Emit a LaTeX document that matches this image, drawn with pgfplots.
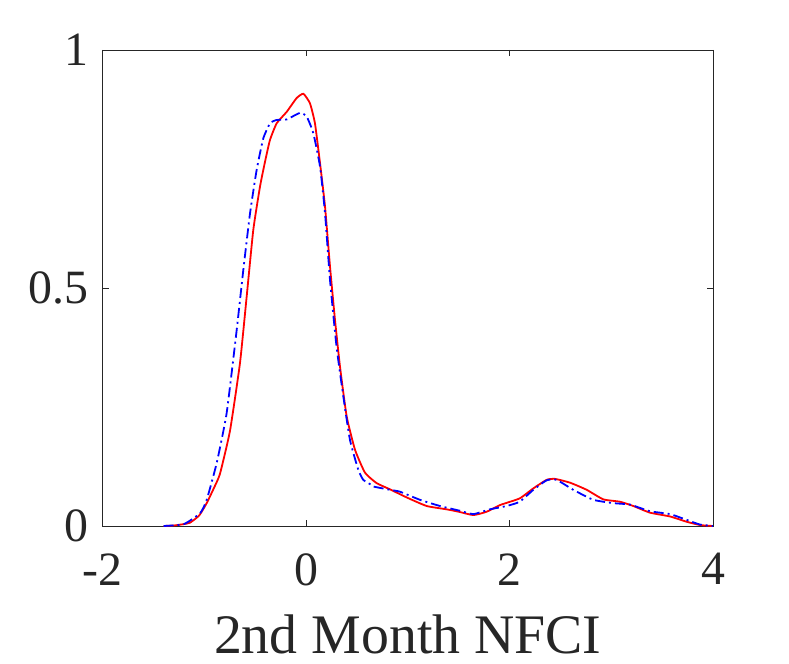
\documentclass[border=0pt]{standalone}
\usepackage{pgfplots}
\pgfplotsset{compat=1.18}
\usepackage{fontspec}
\setmainfont{Liberation Serif}
\definecolor{axgray}{RGB}{38,38,38}
\begin{document}
\begin{tikzpicture}
\begin{axis}[
  name=ax,
  scale only axis,
  width=610.5bp, height=476bp,
  xmin=-2, xmax=4, ymin=0, ymax=1,
  xtick={-2,0,2,4}, xticklabels={-2,0,2,4},
  ytick={0,0.5,1}, yticklabels={0,0.5,1},
  tick align=inside,
  major tick length=6bp,
  axis line style={axgray, line width=0.8bp},
  every tick/.style={axgray, line width=0.8bp},
  tick label style={font=\fontsize{48}{48}\selectfont, text=axgray},
  xticklabel style={yshift=-24bp},
  yticklabel style={xshift=-11bp},
  xlabel={2nd Month NFCI},
  xlabel style={font=\fontsize{56}{56}\selectfont, text=axgray, yshift=-22bp},
  /pgf/number format/assume math mode=true,
]
\addplot[red, line width=1.8bp, smooth, tension=0.3] coordinates {
(-1.40,0) (-1.30,0.001) (-1.20,0.004) (-1.14,0.007) (-1.05,0.022) (-0.976,0.048)
(-0.90,0.082) (-0.845,0.11) (-0.747,0.20) (-0.649,0.342) (-0.583,0.482) (-0.518,0.622)
(-0.452,0.713) (-0.403,0.765) (-0.354,0.811) (-0.288,0.846) (-0.19,0.870) (-0.092,0.899)
(-0.026,0.908) (0.039,0.888) (0.088,0.846) (0.138,0.762) (0.187,0.671) (0.236,0.545)
(0.285,0.433) (0.334,0.335) (0.40,0.23) (0.482,0.16) (0.58,0.112) (0.695,0.09)
(0.826,0.077) (0.99,0.060) (1.186,0.042) (1.383,0.035) (1.50,0.030) (1.645,0.023)
(1.776,0.030) (1.907,0.044) (2.10,0.058) (2.234,0.079) (2.365,0.097) (2.447,0.099)
(2.595,0.091) (2.759,0.076) (2.922,0.056) (3.086,0.051) (3.217,0.042) (3.381,0.028)
(3.578,0.020) (3.74,0.009) (3.872,0.002) (4.0,0)
};
\addplot[blue, line width=1.8bp, smooth, tension=0.3, dash pattern=on 10bp off 4bp on 2bp off 4bp] coordinates {
(-1.40,0) (-1.20,0.004) (-1.04,0.027) (-0.976,0.055) (-0.878,0.132) (-0.78,0.237)
(-0.681,0.412) (-0.616,0.538) (-0.55,0.657) (-0.485,0.748) (-0.42,0.814) (-0.354,0.846)
(-0.288,0.853) (-0.19,0.854) (-0.059,0.868) (0.007,0.860) (0.072,0.825) (0.138,0.755)
(0.187,0.657) (0.236,0.517) (0.30,0.377) (0.367,0.272) (0.432,0.181) (0.514,0.118)
(0.563,0.097) (0.629,0.088) (0.661,0.083) (0.826,0.076) (0.924,0.072) (1.12,0.055)
(1.317,0.042) (1.513,0.032) (1.645,0.025) (1.808,0.035) (1.972,0.042) (2.10,0.051)
(2.234,0.076) (2.365,0.096) (2.463,0.097) (2.627,0.076) (2.824,0.055) (3.02,0.048)
(3.184,0.045) (3.381,0.031) (3.578,0.025) (3.74,0.013) (3.872,0.003) (4.0,0)
};
\end{axis}
\pgfresetboundingbox
\path (ax.south west) ++(-102.5bp,-138bp) rectangle ++(789bp,664bp);
\end{tikzpicture}
\end{document}
